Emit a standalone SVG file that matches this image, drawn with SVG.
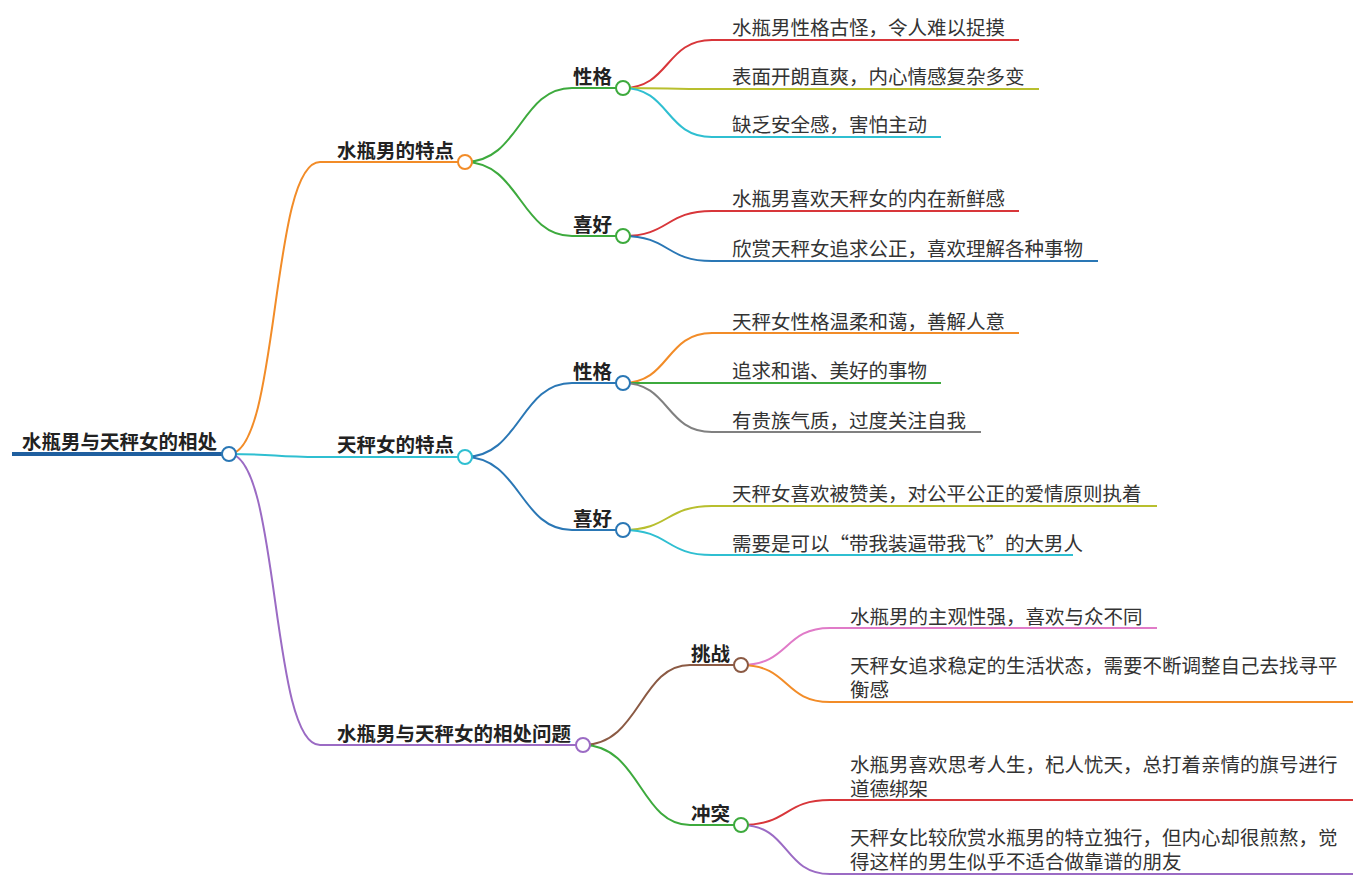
<svg xmlns="http://www.w3.org/2000/svg" width="1370" height="880" viewBox="0 0 1370 880">
<style>
text{font-family:"Noto Sans CJK SC","Noto Sans",sans-serif;fill:#222}
.b{font-weight:bold;font-size:19.5px}
.l{font-size:19.5px;fill:#333}
path{fill:none;stroke-width:2}
circle{fill:#fff;stroke-width:2}
</style>
<rect width="1370" height="880" fill="#fff"/>
<g id="connectors">
<path d="M229,454 C280,454 270,162 320,162 H465" stroke="#F28C28"/>
<path d="M229,454 C280,454 270,457 320,457 H465" stroke="#2FBFD1"/>
<path d="M229,454 C280,454 270,745 320,745 H583" stroke="#9B6BC4"/>
<path d="M465,162 C520,162 520,88 572,88 H623" stroke="#3DAA3D"/>
<path d="M465,162 C520,162 520,236 572,236 H623" stroke="#3DAA3D"/>
<path d="M465,457 C520,457 520,383 572,383 H623" stroke="#2A77B5"/>
<path d="M465,457 C520,457 520,530 572,530 H623" stroke="#2A77B5"/>
<path d="M583,745 C640,745 640,665 690,665 H741" stroke="#8B5A44"/>
<path d="M583,745 C640,745 640,825 690,825 H741" stroke="#3DAA3D"/>
<path d="M623,88 C670,88 665,40 712,40 H1019" stroke="#D8363A"/>
<path d="M623,88 C670,88 665,89 712,89 H1039" stroke="#B8BF2E"/>
<path d="M623,88 C670,88 665,137 712,137 H941" stroke="#2FBFD1"/>
<path d="M623,236 C670,236 665,211 712,211 H1019" stroke="#D8363A"/>
<path d="M623,236 C670,236 665,261 712,261 H1098" stroke="#2A77B5"/>
<path d="M623,383 C670,383 665,333 712,333 H1019" stroke="#F28C28"/>
<path d="M623,383 C670,383 665,383 712,383 H941" stroke="#3DAA3D"/>
<path d="M623,383 C670,383 665,432 712,432 H981" stroke="#808080"/>
<path d="M623,530 C670,530 665,506 712,506 H1157" stroke="#B8BF2E"/>
<path d="M623,530 C670,530 665,555 712,555 H1073" stroke="#2FBFD1"/>
<path d="M741,665 C790,665 783,628 830,628 H1157" stroke="#E07BC8"/>
<path d="M741,665 C790,665 783,702 830,702 H1353" stroke="#F28C28"/>
<path d="M741,825 C790,825 783,800 830,800 H1353" stroke="#D8363A"/>
<path d="M741,825 C790,825 783,874 830,874 H1353" stroke="#9B6BC4"/>
</g>
<g id="root"><line x1="12" y1="454" x2="229" y2="454" stroke="#1F5F9F" stroke-width="4"/><text class="b" x="22" y="449">水瓶男与天秤女的相处</text><circle cx="229" cy="454" r="7" stroke="#2A77B5"/></g>
<g id="n1"><text class="b" x="337" y="158">水瓶男的特点</text><circle cx="465" cy="162" r="7" stroke="#F28C28"/></g>
<g id="n2"><text class="b" x="337" y="452">天秤女的特点</text><circle cx="465" cy="457" r="7" stroke="#2FBFD1"/></g>
<g id="n3"><text class="b" x="337" y="741">水瓶男与天秤女的相处问题</text><circle cx="583" cy="745" r="7" stroke="#9B6BC4"/></g>
<g id="n11"><text class="b" x="573" y="84">性格</text><circle cx="623" cy="88" r="7" stroke="#3DAA3D"/></g>
<g id="n12"><text class="b" x="573" y="232">喜好</text><circle cx="623" cy="236" r="7" stroke="#3DAA3D"/></g>
<g id="n21"><text class="b" x="573" y="379">性格</text><circle cx="623" cy="383" r="7" stroke="#2A77B5"/></g>
<g id="n22"><text class="b" x="573" y="526">喜好</text><circle cx="623" cy="530" r="7" stroke="#2A77B5"/></g>
<g id="n31"><text class="b" x="691" y="661">挑战</text><circle cx="741" cy="665" r="7" stroke="#8B5A44"/></g>
<g id="n32"><text class="b" x="691" y="821">冲突</text><circle cx="741" cy="825" r="7" stroke="#3DAA3D"/></g>
<g id="leaves">
<text class="l" x="732" y="35">水瓶男性格古怪，令人难以捉摸</text>
<text class="l" x="732" y="84">表面开朗直爽，内心情感复杂多变</text>
<text class="l" x="732" y="132">缺乏安全感，害怕主动</text>
<text class="l" x="732" y="206">水瓶男喜欢天秤女的内在新鲜感</text>
<text class="l" x="732" y="256">欣赏天秤女追求公正，喜欢理解各种事物</text>
<text class="l" x="732" y="329">天秤女性格温柔和蔼，善解人意</text>
<text class="l" x="732" y="378">追求和谐、美好的事物</text>
<text class="l" x="732" y="428">有贵族气质，过度关注自我</text>
<text class="l" x="732" y="501">天秤女喜欢被赞美，对公平公正的爱情原则执着</text>
<text class="l" x="732" y="551">需要是可以“带我装逼带我飞”的大男人</text>
<text class="l" x="850" y="624">水瓶男的主观性强，喜欢与众不同</text>
<text class="l" x="850" y="673">天秤女追求稳定的生活状态，需要不断调整自己去找寻平</text>
<text class="l" x="850" y="697">衡感</text>
<text class="l" x="850" y="772">水瓶男喜欢思考人生，杞人忧天，总打着亲情的旗号进行</text>
<text class="l" x="850" y="796">道德绑架</text>
<text class="l" x="850" y="845">天秤女比较欣赏水瓶男的特立独行，但内心却很煎熬，觉</text>
<text class="l" x="850" y="869">得这样的男生似乎不适合做靠谱的朋友</text>
</g>
</svg>
